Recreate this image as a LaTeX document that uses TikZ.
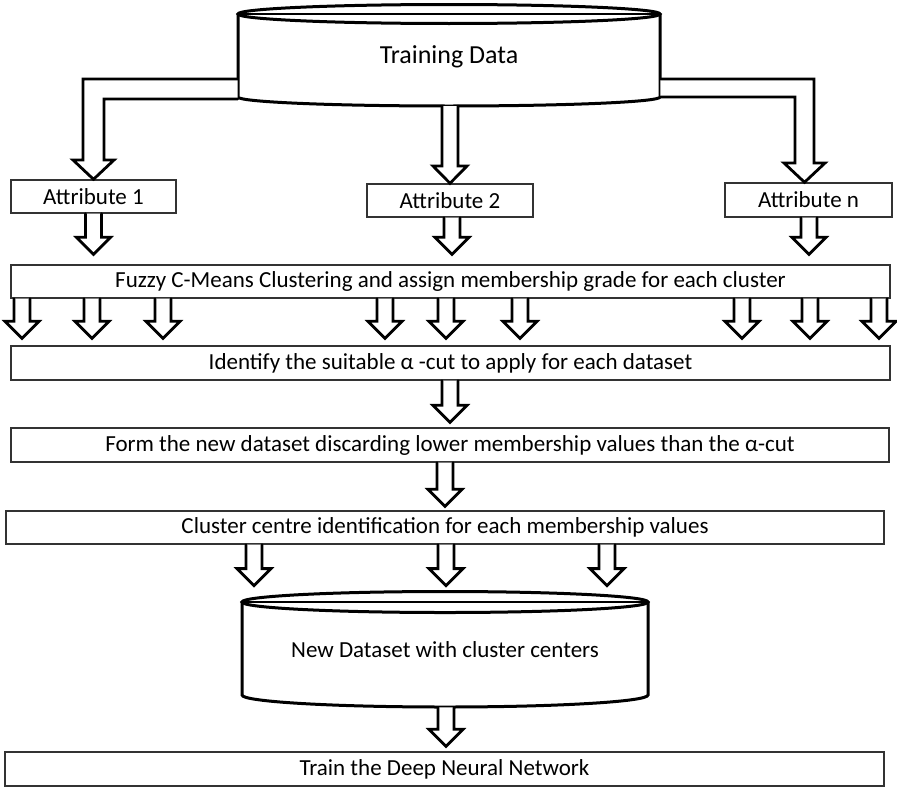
\documentclass[tikz,border=0pt]{standalone}
\usepackage{fontspec}
\setmainfont{Carlito}
\usetikzlibrary{calc}

% block arrow pointing down: x, from node, to node, gap above target
\newcommand{\fatarrow}[4]{%
    \draw[block] let \p1=(#1,0), \p2=(#2.south), \p3=(#3.north) in
        (\x1-4pt,\y2) -- (\x1-4pt,\y3+#4+8.5pt) -- (\x1-8.5pt,\y3+#4+8.5pt)
        -- (\x1,\y3+#4) -- (\x1+8.5pt,\y3+#4+8.5pt)
        -- (\x1+4pt,\y3+#4+8.5pt) -- (\x1+4pt,\y2);
}

\begin{document}
\begin{tikzpicture}[
    x=0.5pt,
    y=-0.5pt,
    line cap=round,
    line join=miter,
    box/.style={
        draw=black!80,
        line width=0.7pt,
        inner sep=0pt,
        minimum height=16.5pt,
        font=\fontsize{11.5}{13}\selectfont
    },
    dbline/.style={
        line width=1.5pt
    },
    block/.style={
        line width=1.4pt,
        fill=white
    }
]

\useasboundingbox (0,0) rectangle (897,787);

% =================================================
% Cylinders
% =================================================

% Training data
\draw[dbline] (238,14) -- (238,97)
    arc[start angle=180, end angle=0, x radius=211, y radius=9]
    -- (660,14);
\draw[dbline] (449,14) ellipse[x radius=211, y radius=9.5];
\draw[line width=1.1pt] (238,14) -- (660,14);
\node (train) [minimum width=211pt, minimum height=51pt, inner sep=0pt,
    font=\fontsize{13}{15}\selectfont] at (449,57) {Training Data};

% New dataset
\draw[dbline] (242,602) -- (242,695)
    arc[start angle=180, end angle=0, x radius=203, y radius=12]
    -- (648,602);
\draw[dbline] (445,602) ellipse[x radius=203, y radius=10.5];
\draw[line width=1.1pt] (242,602) -- (648,602);
\node (newdata) [minimum width=203pt, minimum height=57.5pt, inner sep=0pt,
    font=\fontsize{11.5}{13}\selectfont] at (445,649.5) {New Dataset with cluster centers};

% =================================================
% Boxes
% =================================================

\node[box, minimum width=82.5pt] (attr1) at (93.5,196.5) {Attribute 1};
\node[box, minimum width=83pt] (attr2) at (450,200.5) {Attribute 2};
\node[box, minimum width=83.5pt, minimum height=17pt] (attrn) at (808.5,200) {Attribute n};

\node[box, minimum width=439.5pt] (fcm) at (450.5,281.5)
    {Fuzzy C-Means Clustering and assign membership grade for each cluster};
\node[box, minimum width=439.5pt, minimum height=17pt] (ident) at (450.5,363)
    {Identify the suitable α -cut to apply for each dataset};
\node[box, minimum width=439pt, minimum height=17pt] (form) at (450,445)
    {Form the new dataset discarding lower membership values than the α-cut};
\node[box, minimum width=439pt] (cluster) at (445,527.5)
    {Cluster centre identification for each membership values};
\node[box, minimum width=439.5pt, minimum height=17pt] (trainnet) at (444.5,769)
    {Train the Deep Neural Network};

% =================================================
% Arrows from the training data
% =================================================

\draw[block] (train.west |- 0,79) -- (83,79) -- (83,160) -- (73,160)
    -- (attr1.north) -- (114,160) -- (104,160) -- (104,99)
    -- (train.west |- 0,99);
\draw[block] (442,106) -- (442,166) -- (433,166) -- (attr2.north)
    -- (467,166) -- (458,166) -- (458,106);
\draw[block] (train.east |- 0,79) -- (814,79) -- (814,163) -- (825,163)
    -- (attrn.north -| 804.5,0) -- (784,163) -- (795,163) -- (795,97)
    -- (train.east |- 0,97);

% =================================================
% Arrows between the steps
% =================================================

\fatarrow{93.5}{attr1}{fcm}{5pt}
\fatarrow{452}{attr2}{fcm}{5pt}
\fatarrow{809}{attrn}{fcm}{5pt}

\foreach \xa in {22,92,163,385,446,520,742,810,879}{
    \fatarrow{\xa}{fcm}{ident}{3.5pt}
}

\fatarrow{450}{ident}{form}{2.5pt}
\fatarrow{445}{form}{cluster}{2pt}

\foreach \xa in {254,446,607}{
    \fatarrow{\xa}{cluster}{newdata}{3pt}
}

\fatarrow{446}{newdata}{trainnet}{2.5pt}

\end{tikzpicture}
\end{document}
